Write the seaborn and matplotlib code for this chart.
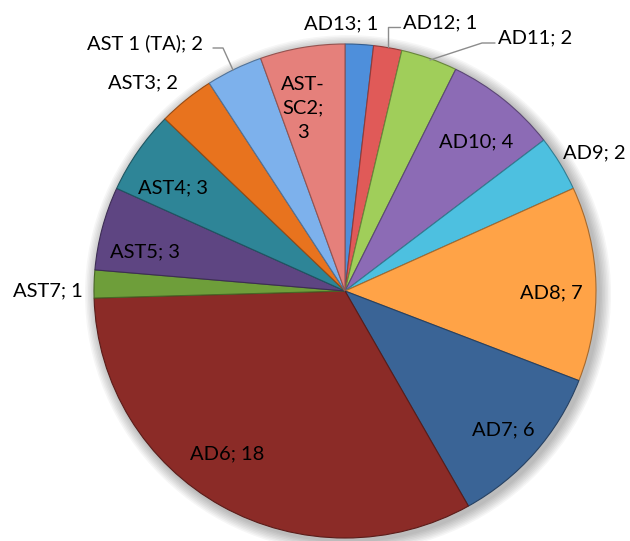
import matplotlib
matplotlib.use("Agg")
import matplotlib.pyplot as plt
import seaborn as sns
from matplotlib.colors import to_rgb
from matplotlib.patches import Ellipse

# slices, clockwise from 12 o'clock
CATEGORIES = ["AD13", "AD12", "AD11", "AD10", "AD9", "AD8", "AD7", "AD6",
              "AST7", "AST5", "AST4", "AST3", "AST 1 (TA)", "AST-SC2"]
COUNTS = [1, 1, 2, 4, 2, 7, 6, 18, 1, 3, 3, 2, 2, 3]
COLORS = ["#4E8FDB", "#E05A58", "#A0CE5A", "#8C6BB5", "#4DC0E0", "#FFA347",
          "#3A6496", "#8B2B27", "#6E9E3A", "#5E4582", "#2E8597", "#E8731E",
          "#7DB1EC", "#E5807B"]

# layout (pixel coords in the 630x541 image)
W, H = 630, 541
CX, CY = 345, 291
RX, RY = 251, 247
LABEL_PX = [(341, 24), (440, 23), (535, 38), (476, 142), (594, 153),
            (551, 293), (503, 430), (227, 454), (48, 291), (145, 252),
            (173, 188), (143, 83), (145, 43), (303, 108)]
LEADERS = {
    "AD12": [(400, 27), (388, 27), (388, 47)],
    "AD11": [(495, 43), (482, 43), (430, 60)],
    "AST 1 (TA)": [(213, 48), (223, 48), (233, 70)],
}


def to_data(px, py):
    return (px - CX) / RX, (CY - py) / RY


def darker(color, f=0.7):
    r, g, b = to_rgb(color)
    return (r * f, g * f, b * f)


sns.set_theme(style="white")
plt.rcParams["font.family"] = ["Lato", "DejaVu Sans"]

fig = plt.figure(figsize=(W / 100, H / 100), dpi=100)
ax = fig.add_axes([0, 0, 1, 1])

# soft drop shadow
for i in range(8):
    s = 1.0 + 0.006 * (i + 1)
    ax.add_patch(Ellipse((0.012, -0.012), 2 * s, 2 * s, color="black",
                         alpha=0.035, lw=0, zorder=0))

palette = sns.color_palette(COLORS)
wedges, _ = ax.pie(COUNTS, colors=palette, startangle=90, counterclock=False,
                   radius=1.0, wedgeprops=dict(linewidth=0.8))
for w, c in zip(wedges, COLORS):
    w.set_edgecolor(darker(c, 0.65))
    w.set_zorder(2)

# light bevel rim near the outer edge
ax.pie(COUNTS, colors=["white"] * len(COUNTS), startangle=90, counterclock=False,
       radius=0.985, wedgeprops=dict(width=0.035, alpha=0.18, linewidth=0))

for cat, n, (px, py) in zip(CATEGORIES, COUNTS, LABEL_PX):
    if cat == "AST-SC2":
        label = cat.replace("-", "-\n") + ";\n" + str(n)
    else:
        label = f"{cat}; {n}"
    x, y = to_data(px, py)
    ax.text(x, y, label, ha="center", va="center", fontsize=14.5,
            color="black", linespacing=1.5, zorder=5)

for cat, pts in LEADERS.items():
    xs, ys = zip(*[to_data(px, py) for px, py in pts])
    ax.plot(xs, ys, color="#8C8C8C", lw=1.0, zorder=4)

ax.set_aspect("auto")
ax.set_xlim(-CX / RX, (W - CX) / RX)
ax.set_ylim((CY - H) / RY, CY / RY)
ax.axis("off")

fig.savefig("out.png", dpi=100, facecolor="white")
